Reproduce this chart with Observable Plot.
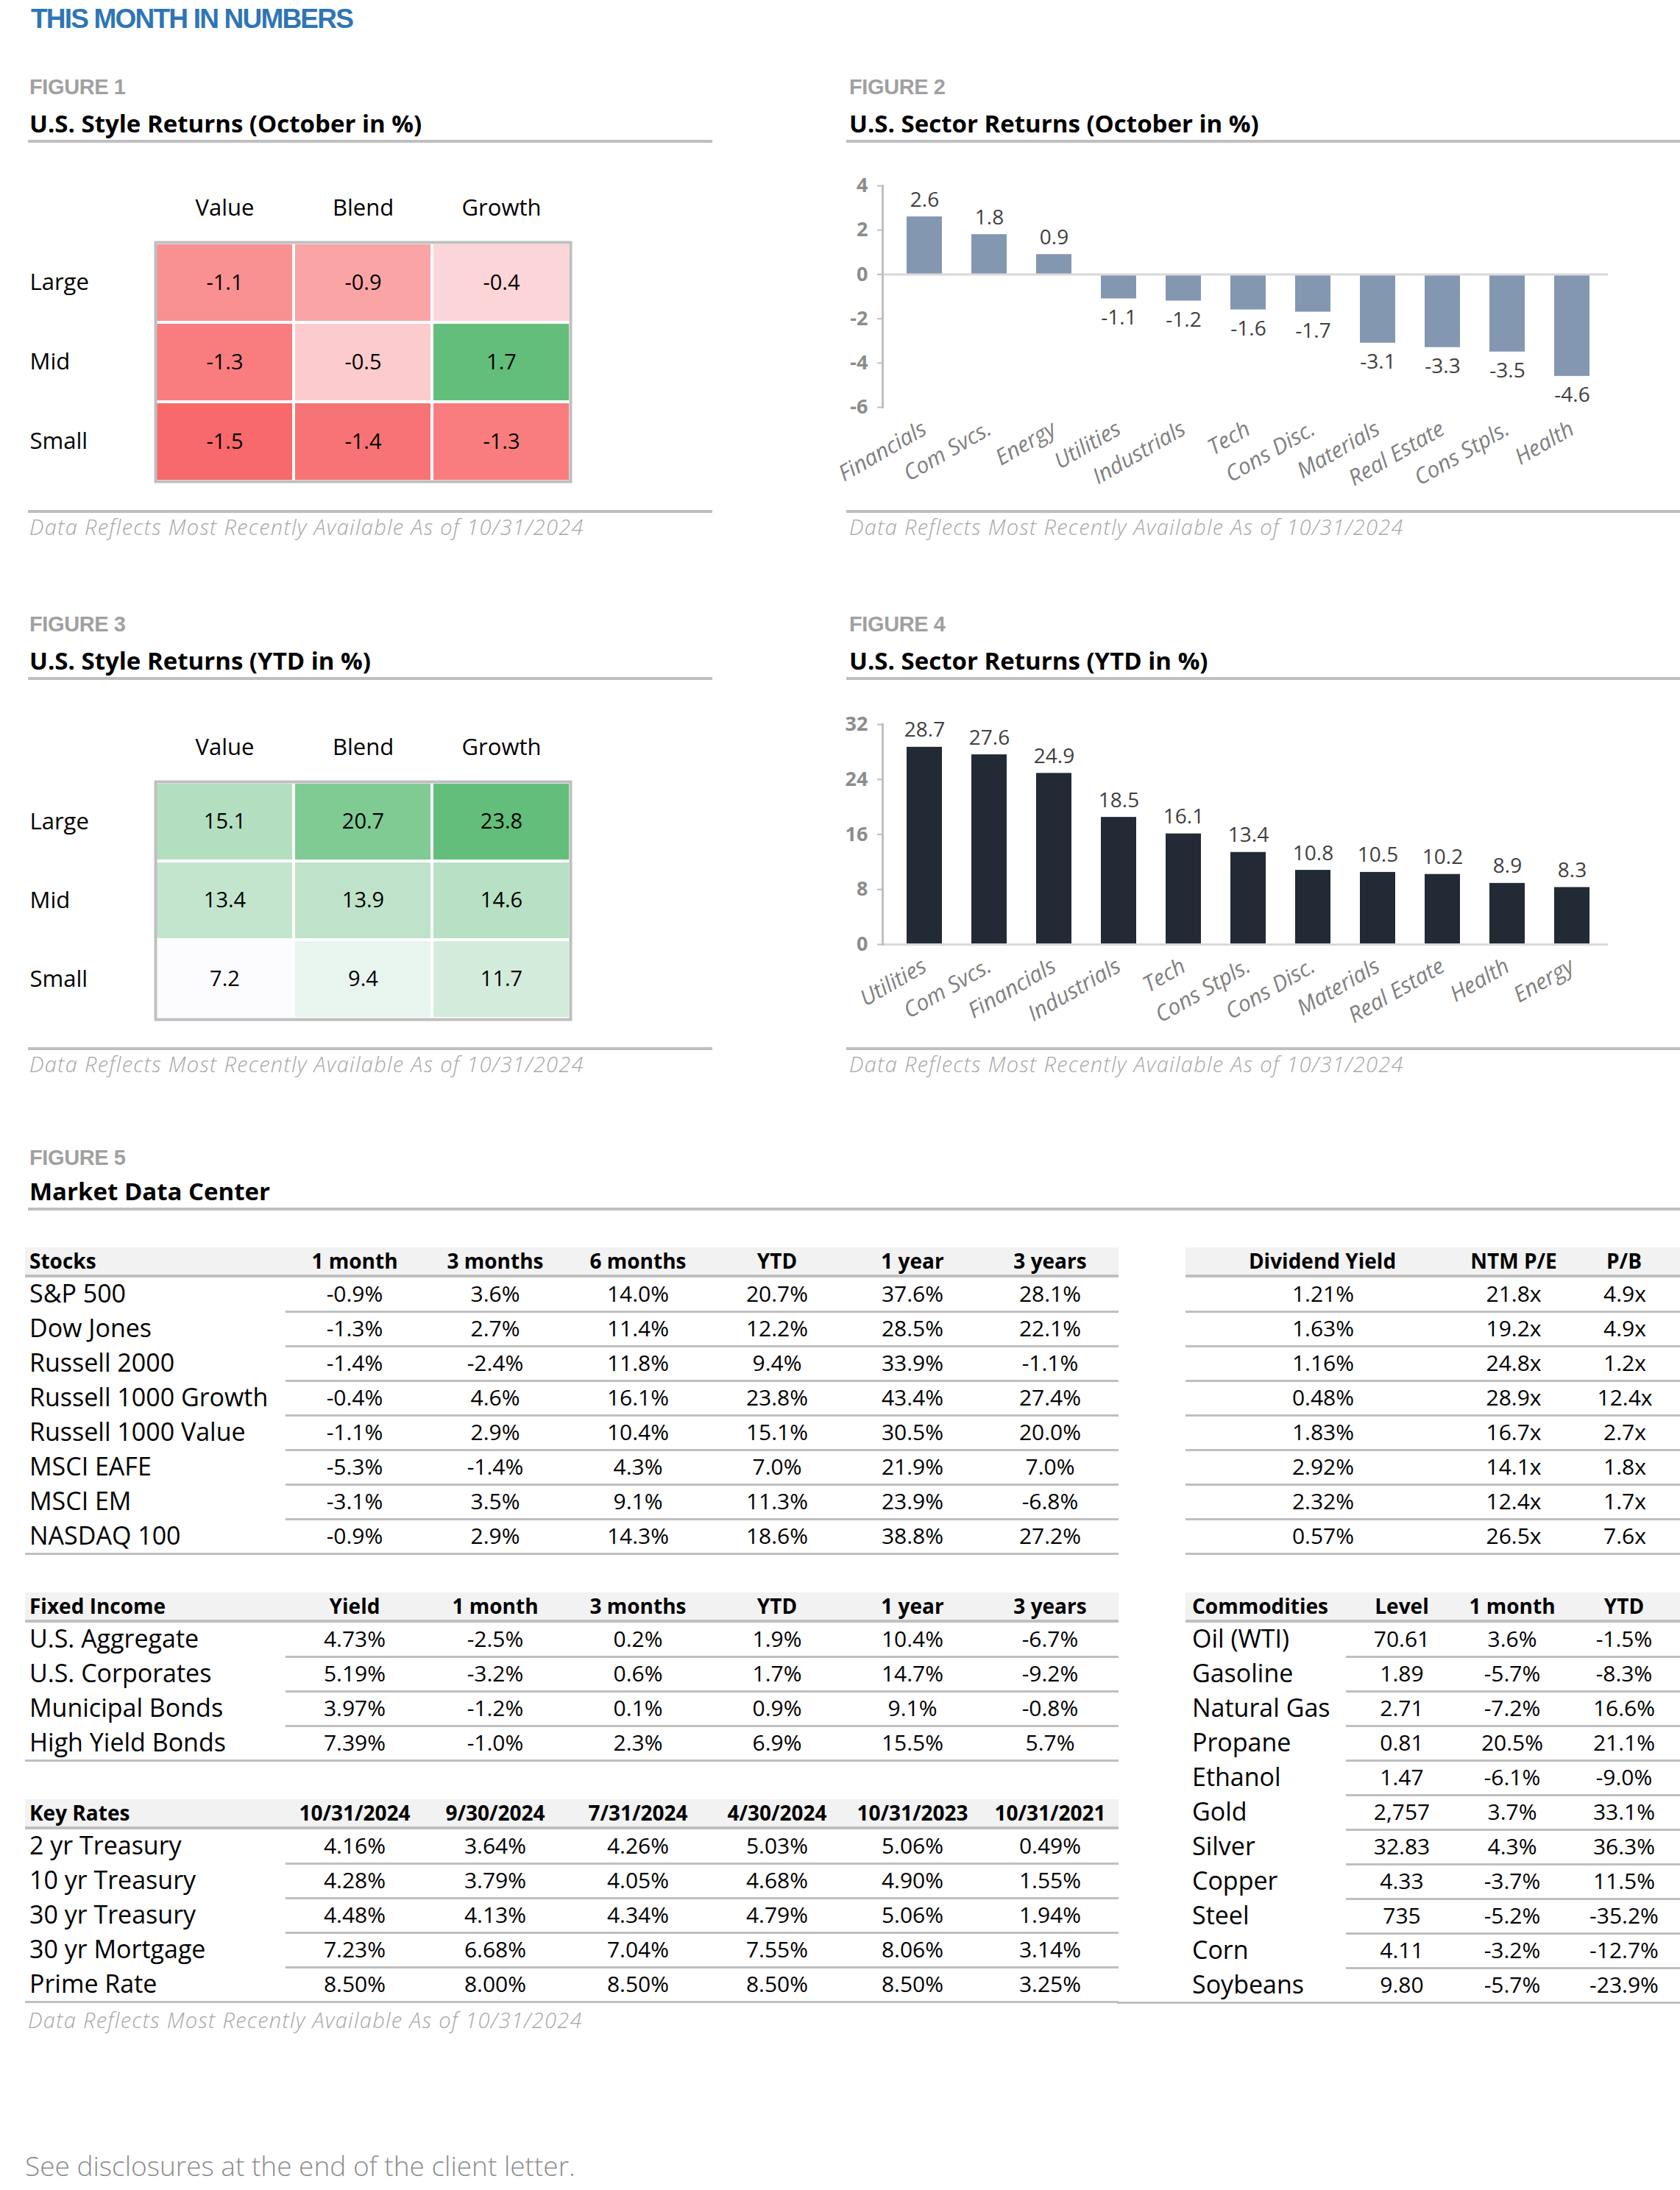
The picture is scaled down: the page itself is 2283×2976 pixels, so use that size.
<!DOCTYPE html>
<html>
<head>
<meta charset="utf-8">
<script src="https://cdn.jsdelivr.net/npm/d3@7"></script>
<script src="https://cdn.jsdelivr.net/npm/@observablehq/plot@0.6"></script>
<style>
html, body { margin: 0; padding: 0; background: #fff; }
#page { position: relative; width: 2283px; height: 2976px; overflow: hidden; font-family: "Open Sans", "Noto Sans", sans-serif; color: #000; }
.abs { position: absolute; white-space: nowrap; line-height: 1; }
.head { font-family: "Liberation Sans", "Open Sans", sans-serif; }
svg { position: absolute; }
</style>
</head>
<body>
<div id="page"></div>
<script>
// ---------------- DATA ----------------
const styleCols = ["Value", "Blend", "Growth"];
const styleRows = ["Large", "Mid", "Small"];
const octStyleReturns = [
  [-1.1, -0.9, -0.4],
  [-1.3, -0.5, 1.7],
  [-1.5, -1.4, -1.3]
];
const ytdStyleReturns = [
  [15.1, 20.7, 23.8],
  [13.4, 13.9, 14.6],
  [7.2, 9.4, 11.7]
];

const octSectors = ["Financials", "Com Svcs.", "Energy", "Utilities", "Industrials", "Tech", "Cons Disc.", "Materials", "Real Estate", "Cons Stpls.", "Health"];
const octSectorReturns = [2.6, 1.8, 0.9, -1.1, -1.2, -1.6, -1.7, -3.1, -3.3, -3.5, -4.6];
const octTicks = [4, 2, 0, -2, -4, -6];

const ytdSectors = ["Utilities", "Com Svcs.", "Financials", "Industrials", "Tech", "Cons Stpls.", "Cons Disc.", "Materials", "Real Estate", "Health", "Energy"];
const ytdSectorReturns = [28.7, 27.6, 24.9, 18.5, 16.1, 13.4, 10.8, 10.5, 10.2, 8.9, 8.3];
const ytdTicks = [32, 24, 16, 8, 0];

const stockHeaders = ["Stocks", "1 month", "3 months", "6 months", "YTD", "1 year", "3 years"];
const stockNames = ["S&P 500", "Dow Jones", "Russell 2000", "Russell 1000 Growth", "Russell 1000 Value", "MSCI EAFE", "MSCI EM", "NASDAQ 100"];
const stockReturns = [
  [-0.9, 3.6, 14.0, 20.7, 37.6, 28.1],
  [-1.3, 2.7, 11.4, 12.2, 28.5, 22.1],
  [-1.4, -2.4, 11.8, 9.4, 33.9, -1.1],
  [-0.4, 4.6, 16.1, 23.8, 43.4, 27.4],
  [-1.1, 2.9, 10.4, 15.1, 30.5, 20.0],
  [-5.3, -1.4, 4.3, 7.0, 21.9, 7.0],
  [-3.1, 3.5, 9.1, 11.3, 23.9, -6.8],
  [-0.9, 2.9, 14.3, 18.6, 38.8, 27.2]
];
const valuationHeaders = ["Dividend Yield", "NTM P/E", "P/B"];
const dividendYield = [1.21, 1.63, 1.16, 0.48, 1.83, 2.92, 2.32, 0.57];
const ntmPE = [21.8, 19.2, 24.8, 28.9, 16.7, 14.1, 12.4, 26.5];
const priceToBook = [4.9, 4.9, 1.2, 12.4, 2.7, 1.8, 1.7, 7.6];

const fixedHeaders = ["Fixed Income", "Yield", "1 month", "3 months", "YTD", "1 year", "3 years"];
const fixedNames = ["U.S. Aggregate", "U.S. Corporates", "Municipal Bonds", "High Yield Bonds"];
const fixedYield = [4.73, 5.19, 3.97, 7.39];
const fixedReturns = [
  [-2.5, 0.2, 1.9, 10.4, -6.7],
  [-3.2, 0.6, 1.7, 14.7, -9.2],
  [-1.2, 0.1, 0.9, 9.1, -0.8],
  [-1.0, 2.3, 6.9, 15.5, 5.7]
];

const rateHeaders = ["Key Rates", "10/31/2024", "9/30/2024", "7/31/2024", "4/30/2024", "10/31/2023", "10/31/2021"];
const rateNames = ["2 yr Treasury", "10 yr Treasury", "30 yr Treasury", "30 yr Mortgage", "Prime Rate"];
const rateValues = [
  [4.16, 3.64, 4.26, 5.03, 5.06, 0.49],
  [4.28, 3.79, 4.05, 4.68, 4.90, 1.55],
  [4.48, 4.13, 4.34, 4.79, 5.06, 1.94],
  [7.23, 6.68, 7.04, 7.55, 8.06, 3.14],
  [8.50, 8.00, 8.50, 8.50, 8.50, 3.25]
];

const commodityHeaders = ["Commodities", "Level", "1 month", "YTD"];
const commodityNames = ["Oil (WTI)", "Gasoline", "Natural Gas", "Propane", "Ethanol", "Gold", "Silver", "Copper", "Steel", "Corn", "Soybeans"];
const commodityLevels = ["70.61", "1.89", "2.71", "0.81", "1.47", "2,757", "32.83", "4.33", "735", "4.11", "9.80"];
const commodityMonth = [3.6, -5.7, -7.2, 20.5, -6.1, 3.7, 4.3, -3.7, -5.2, -3.2, -5.7];
const commodityYTD = [-1.5, -8.3, 16.6, 21.1, -9.0, 33.1, 36.3, 11.5, -35.2, -12.7, -23.9];

const footnote = "Data Reflects Most Recently Available As of 10/31/2024";

// ---------------- HELPERS ----------------
const page = document.getElementById("page");
const loc = d3.formatLocale({decimal: ".", thousands: ",", grouping: [3], currency: ["$", ""], minus: "-"});
const f1 = loc.format(".1f");
const f2 = loc.format(".2f");
const fInt = loc.format("d");
const pct1 = v => f1(v) + "%";
const pct2 = v => f2(v) + "%";
const mult = v => f1(v) + "x";

function put(text, x, y, o = {}) {
  const d = document.createElement("div");
  d.className = "abs " + (o.cls || "");
  const size = o.size || 28;
  d.style.fontSize = size + "px";
  d.style.left = x + "px";
  d.style.top = (y - size * (o.k ?? 0.55)) + "px";
  if (o.weight) d.style.fontWeight = o.weight;
  if (o.color) d.style.color = o.color;
  if (o.italic) d.style.fontStyle = "italic";
  if (o.ls) d.style.letterSpacing = o.ls + "px";
  if (o.anchor === "middle") d.style.transform = "translateX(-50%)";
  else if (o.anchor === "end") d.style.transform = "translateX(-100%)";
  d.textContent = text;
  page.appendChild(d);
  return d;
}
function box(x1, x2, y1, y2, color) {
  const d = document.createElement("div");
  d.style.position = "absolute";
  d.style.left = x1 + "px"; d.style.width = (x2 - x1) + "px";
  d.style.top = y1 + "px"; d.style.height = (y2 - y1) + "px";
  d.style.background = color;
  page.appendChild(d);
}
function rule(x1, x2, y, h = 4, color = "#BFBFBF") { box(x1, x2, y - h / 2, y + h / 2, color); }
function place(svg, x, y) { svg.style.position = "absolute"; svg.style.left = x + "px"; svg.style.top = y + "px"; page.appendChild(svg); }

function figureHeader(num, title, x, y, ruleX1, ruleX2) {
  put("FIGURE " + num, x, y, {size: 29, weight: 700, color: "#A0A0A0", cls: "head", k: 0.5, ls: -0.4});
  put(title, x, y + 51, {size: 33, weight: 700, k: 0.55});
  rule(ruleX1, ruleX2, y + 74, 4);
}
function figureFoot(x, y, ruleX1, ruleX2) {
  rule(ruleX1, ruleX2, y, 4);
  put(footnote, x, y + 22, {size: 29, italic: true, weight: 300, color: "#A6A6A6", ls: 1.3});
}

// ---------------- PAGE TEXT ----------------
put("THIS MONTH IN NUMBERS", 42, 25, {size: 37, weight: 700, color: "#2E75B6", cls: "head", k: 0.5, ls: -1.8});

figureHeader(1, "U.S. Style Returns (October in %)", 40, 118, 38, 968);
figureHeader(2, "U.S. Sector Returns (October in %)", 1154, 118, 1150, 2283);
figureHeader(3, "U.S. Style Returns (YTD in %)", 40, 848, 38, 968);
figureHeader(4, "U.S. Sector Returns (YTD in %)", 1154, 848, 1150, 2283);
figureFoot(40, 695, 38, 968);
figureFoot(1154, 695, 1150, 2283);
figureFoot(40, 1425, 38, 968);
figureFoot(1154, 1425, 1150, 2283);

put("FIGURE 5", 40, 1573, {size: 29, weight: 700, color: "#A0A0A0", cls: "head", k: 0.5, ls: -0.4});
put("Market Data Center", 40, 1620, {size: 33, weight: 700});
rule(38, 2283, 1643, 4);
put(footnote, 38, 2746, {size: 29, italic: true, weight: 300, color: "#A6A6A6", ls: 1.3});
put("See disclosures at the end of the client letter.", 34, 2944, {size: 37, weight: 300, color: "#8C8C8C"});

// ---------------- HEATMAPS ----------------
function heatmap(values, colorScale, height, mTop, mBottom) {
  const cells = styleRows.flatMap((r, i) => styleCols.map((c, j) => ({row: r, col: c, value: values[i][j]})));
  return Plot.plot({
    width: 1000, height, marginLeft: 211, marginRight: 225, marginTop: mTop, marginBottom: mBottom,
    style: {fontFamily: "Open Sans, sans-serif", background: "transparent", overflow: "visible"},
    x: {domain: styleCols, padding: 0, axis: null, label: null},
    y: {domain: styleRows, padding: 0, axis: null, label: null},
    color: colorScale,
    marks: [
      Plot.cell(cells, {x: "col", y: "row", fill: "value", stroke: "#FFFFFF", strokeWidth: 4, inset: 0}),
      Plot.text(cells, {x: "col", y: "row", text: d => f1(d.value), fontSize: 29, fill: "#000"}),
      Plot.frame({stroke: "#BFBFBF", strokeWidth: 4}),
      Plot.axisX({anchor: "top", tickSize: 0, tickPadding: 37, fontSize: 31, fill: "#000", label: null}),
      Plot.text(styleRows, {y: d => d, frameAnchor: "left", textAnchor: "start", dx: -171, fontSize: 31, fill: "#000"})
    ]
  });
}
const octFlat = octStyleReturns.flat();
place(heatmap(octStyleReturns,
  {type: "linear", domain: [d3.min(octFlat), 0, d3.max(octFlat)], range: ["#F8696B", "#FCFCFF", "#63BE7B"], interpolate: "rgb"},
  450, 99, 26), 0, 230);
const ytdFlat = ytdStyleReturns.flat();
place(heatmap(ytdStyleReturns,
  {type: "linear", domain: d3.extent(ytdFlat), range: ["#FCFCFF", "#63BE7B"], interpolate: "rgb"},
  430, 82, 25), 0, 980);

// ---------------- BAR CHARTS ----------------
function barChart(sectors, values, ticks, domain, color, height, mTop, mBottom) {
  const data = sectors.map((sector, i) => ({sector, value: values[i]}));
  return Plot.plot({
    width: 1153, height, marginLeft: 69, marginRight: 98, marginTop: mTop, marginBottom: mBottom,
    style: {fontFamily: "Open Sans, sans-serif", background: "transparent", overflow: "visible"},
    x: {domain: sectors, paddingInner: 0.45, paddingOuter: 0.23, insetLeft: 8, axis: null, label: null},
    y: {domain, axis: null, label: null},
    marks: [
      Plot.barY(data, {x: "sector", y: "value", fill: color}),
      Plot.ruleY([0], {stroke: "#D9D9D9", strokeWidth: 3}),
      Plot.frame({anchor: "left", stroke: "#BFBFBF", strokeWidth: 3}),
      Plot.axisY(ticks, {tickSize: 7, tickPadding: 13, stroke: "#BFBFBF", strokeWidth: 2, fill: "#8C8C8C", fontSize: 27, fontWeight: 700, tickFormat: fInt, label: null}),
      Plot.axisX({anchor: "bottom", tickSize: 0, tickPadding: 27, tickRotate: -30, fill: "#7F7F7F", fontSize: 30, fontStyle: "italic", label: null}),
      Plot.text(data.filter(d => d.value >= 0), {x: "sector", y: "value", text: d => f1(d.value), lineAnchor: "bottom", dy: -14, fontSize: 28, fill: "#404040"}),
      Plot.text(data.filter(d => d.value < 0), {x: "sector", y: "value", text: d => f1(d.value), lineAnchor: "top", dy: 15, fontSize: 28, fill: "#404040"})
    ]
  });
}
place(barChart(octSectors, octSectorReturns, octTicks, [-6, 4], "#8497B0", 480, 52, 127), 1130, 200);
place(barChart(ytdSectors, ytdSectorReturns, ytdTicks, [0, 32], "#222A35", 460, 34, 127), 1130, 950);

// ---------------- TABLES ----------------
function table({x1, x2, ruleX, lastRuleX, headerY, headers, headerXs, headerAnchors, rows, xs, anchors, labelCol}) {
  box(x1, x2, headerY - 19, headerY + 18, "#F2F2F2");
  rule(x1, x2, headerY + 20, 4);
  headers.forEach((h, j) => put(h, headerXs[j], headerY, {size: 28, weight: 700, anchor: headerAnchors[j]}));
  rows.forEach((r, i) => {
    const cy = headerY + 45 + i * 47;
    r.forEach((v, j) => put(v, xs[j], cy, {size: (labelCol && j === 0) ? 34 : 30, anchor: anchors[j]}));
    const last = i === rows.length - 1;
    rule(last ? lastRuleX : ruleX, x2, cy + 23.5, 3);
  });
}
const leftXs = [40, 482, 673, 867, 1056, 1240, 1427];
const leftAnchors = ["start", "middle", "middle", "middle", "middle", "middle", "middle"];

table({x1: 34, x2: 1520, ruleX: 388, lastRuleX: 34, headerY: 1714,
  headers: stockHeaders, headerXs: leftXs, headerAnchors: leftAnchors,
  rows: stockNames.map((n, i) => [n, ...stockReturns[i].map(pct1)]),
  xs: leftXs, anchors: leftAnchors, labelCol: true});

table({x1: 1611, x2: 2283, ruleX: 1611, lastRuleX: 1611, headerY: 1714,
  headers: valuationHeaders, headerXs: [1797, 2057, 2207], headerAnchors: ["middle", "middle", "middle"],
  rows: dividendYield.map((v, i) => [pct2(v), mult(ntmPE[i]), mult(priceToBook[i])]),
  xs: [1798, 2057, 2208], anchors: ["middle", "middle", "middle"], labelCol: false});

table({x1: 34, x2: 1520, ruleX: 388, lastRuleX: 34, headerY: 2183,
  headers: fixedHeaders, headerXs: leftXs, headerAnchors: leftAnchors,
  rows: fixedNames.map((n, i) => [n, pct2(fixedYield[i]), ...fixedReturns[i].map(pct1)]),
  xs: leftXs, anchors: leftAnchors, labelCol: true});

table({x1: 34, x2: 1520, ruleX: 388, lastRuleX: 34, headerY: 2464,
  headers: rateHeaders, headerXs: leftXs, headerAnchors: leftAnchors,
  rows: rateNames.map((n, i) => [n, ...rateValues[i].map(pct2)]),
  xs: leftXs, anchors: leftAnchors, labelCol: true});

table({x1: 1611, x2: 2283, ruleX: 1829, lastRuleX: 1518, headerY: 2183,
  headers: commodityHeaders, headerXs: [1620, 1905, 2055, 2207], headerAnchors: ["start", "middle", "middle", "middle"],
  rows: commodityNames.map((n, i) => [n, commodityLevels[i], pct1(commodityMonth[i]), pct1(commodityYTD[i])]),
  xs: [1620, 1905, 2055, 2207], anchors: ["start", "middle", "middle", "middle"], labelCol: true});
</script>
</body>
</html>
